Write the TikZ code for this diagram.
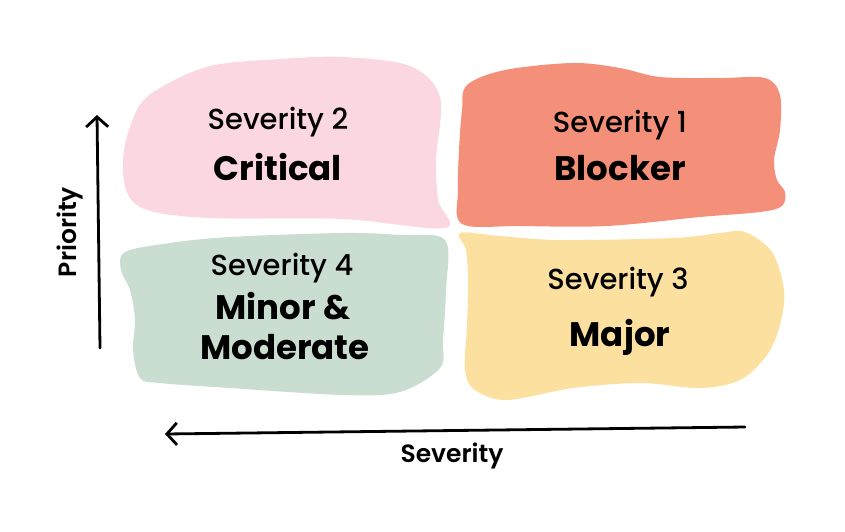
\documentclass[tikz,border=0pt]{standalone}
\usepackage{fontspec}
\setmainfont{Poppins}[UprightFont=* Medium,BoldFont=* Bold]
\newfontfamily\semib{Poppins SemiBold}
\usetikzlibrary{arrows.meta}
\definecolor{pinkq}{HTML}{FBD7E1}
\definecolor{salmonq}{HTML}{F48F79}
\definecolor{greenq}{HTML}{C9DDD0}
\definecolor{yellowq}{HTML}{FCE0A0}
\tikzset{
  sev/.style={font=\fontsize{29}{32}\selectfont},
  lvl/.style={font=\bfseries\fontsize{34}{38}\selectfont},
  axlab/.style={font=\semib\fontsize{25}{28}\selectfont},
  blob/.style={smooth cycle,tension=0.55},
  axis/.style={line width=2.8pt,-{Straight Barb[length=10pt,width=22pt]}}
}
\begin{document}
\begin{tikzpicture}[x=1pt,y=-1pt,line join=round,line cap=round]
\useasboundingbox (0,0) rectangle (845,531);
\fill[pinkq] plot[blob] coordinates {(160,88) (210,66) (280,59) (343,57) (410,66) (440,97) (436,160) (438,200) (445,228) (343,219) (210,218) (147,210) (126,190) (124,150) (138,108)};
\fill[salmonq] plot[blob] coordinates {(467,85) (505,70) (573,63) (620,68) (660,77) (720,78) (765,78) (780,95) (780,130) (774,160) (777,180) (785,192) (782,206) (760,212) (700,217) (607,226) (520,226) (462,224) (458,190) (459,150) (462,110)};
\fill[greenq] plot[blob] coordinates {(125,252) (170,243) (230,237) (343,233) (400,235) (445,240) (446,290) (443,340) (440,368) (400,392) (343,395) (230,388) (160,383) (140,378) (133,350) (135,320) (130,290) (121,270)};
\fill[yellowq] plot[blob] coordinates {(460,233) (500,236) (560,240) (673,238) (720,233) (745,232) (772,252) (784,290) (780,325) (767,355) (740,380) (700,388) (640,383) (573,388) (507,400) (475,390) (465,370) (467,325) (468,280) (466,250)};
\node[sev] (s2) at (278,122) {Severity 2};
\node[lvl] (l2) at (278,167) {Critical};
\node[sev] (s1) at (620,125) {Severity 1};
\node[lvl] (l1) at (620,168) {Blocker};
\node[sev] (s4) at (282,268) {Severity 4};
\node[lvl] (l4a) at (283,306) {Minor \&};
\node[lvl] (l4b) at (285,347) {Moderate};
\node[sev] (s3) at (618,282) {Severity 3};
\node[lvl] (l3) at (620,337) {Major};
\coordinate (pbot) at (100,348);
\coordinate (ptop) at (97,115);
\coordinate (sright) at (745,427);
\coordinate (sleft) at (165,434);
\draw[axis] (pbot) -- (ptop);
\draw[axis] (sright) -- (sleft);
\node[axlab,rotate=90] (plab) at (70,232) {Priority};
\node[axlab] (slab) at (452,456) {Severity};
\end{tikzpicture}
\end{document}
